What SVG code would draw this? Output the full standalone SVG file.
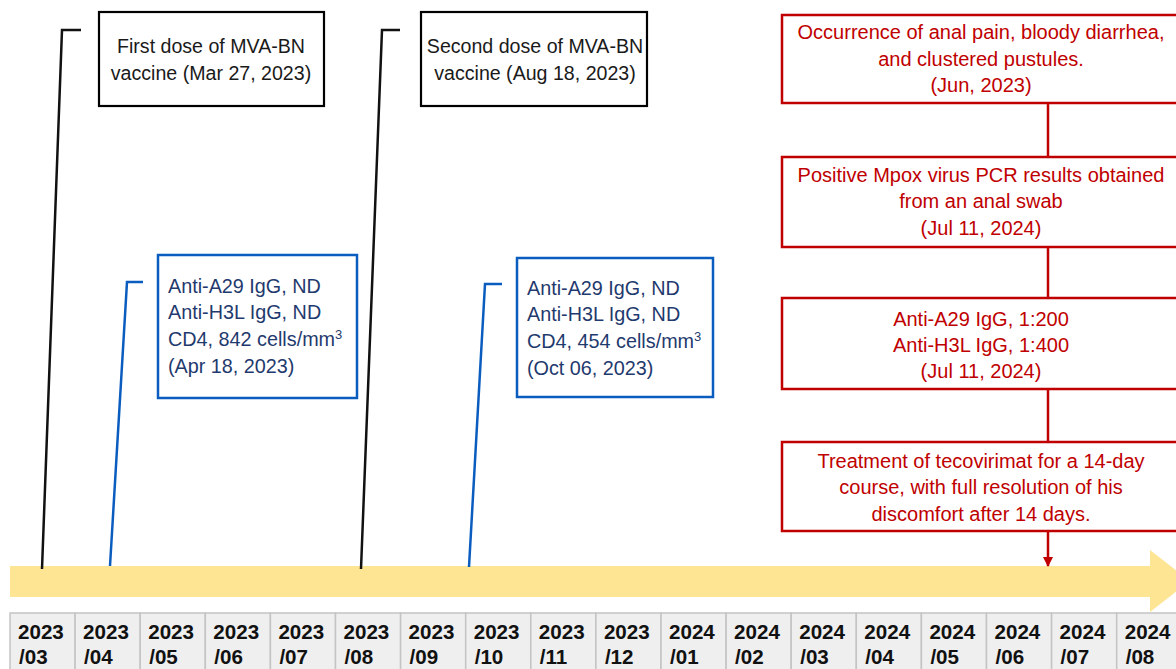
<svg xmlns="http://www.w3.org/2000/svg" width="1176" height="669" viewBox="0 0 1176 669">
<style>
text{font-family:"Liberation Sans",Arial,sans-serif;font-size:20px}
.bk{fill:#1a1a1a;text-anchor:middle;font-size:19.6px}
.rd{fill:#c00000;text-anchor:middle}
.bl{fill:#1f3a6e;font-size:19.8px}
.bx{fill:#fff;stroke:#000;stroke-width:2.2}
.rbx{fill:#fff;stroke:#c00000;stroke-width:2.5}
.bbx{fill:#fff;stroke:#0b5cbf;stroke-width:2.5}
.cell{fill:#efefef;stroke:#c4c4c4;stroke-width:1.5}
.ct{font-weight:bold;font-size:20.6px;fill:#111}
.cb{fill:none;stroke:#111;stroke-width:2.5}
.cbl{fill:none;stroke:#0b5cbf;stroke-width:2.5}
.cr{fill:none;stroke:#c00000;stroke-width:2.5}
</style>
<defs>
<marker id="ar" viewBox="0 0 10 10" refX="9" refY="5" markerWidth="4" markerHeight="4" orient="auto"><path d="M0,0 L10,5 L0,10 z" fill="#c00000"/></marker>
</defs>
<rect width="1176" height="669" fill="#fff"/>
<g id="timeline-arrow">
<polygon points="10,566 1150,566 1150,550 1190,581 1150,612 1150,597 10,597" fill="#fee594"/>
</g>
<g id="month-table">
<rect class="cell" x="10" y="613" width="65.1" height="60"/>
<rect class="cell" x="75.1" y="613" width="65.1" height="60"/>
<rect class="cell" x="140.2" y="613" width="65.1" height="60"/>
<rect class="cell" x="205.3" y="613" width="65.1" height="60"/>
<rect class="cell" x="270.4" y="613" width="65.1" height="60"/>
<rect class="cell" x="335.5" y="613" width="65.1" height="60"/>
<rect class="cell" x="400.6" y="613" width="65.1" height="60"/>
<rect class="cell" x="465.7" y="613" width="65.1" height="60"/>
<rect class="cell" x="530.8" y="613" width="65.1" height="60"/>
<rect class="cell" x="595.9" y="613" width="65.1" height="60"/>
<rect class="cell" x="661" y="613" width="65.1" height="60"/>
<rect class="cell" x="726.1" y="613" width="65.1" height="60"/>
<rect class="cell" x="791.2" y="613" width="65.1" height="60"/>
<rect class="cell" x="856.3" y="613" width="65.1" height="60"/>
<rect class="cell" x="921.4" y="613" width="65.1" height="60"/>
<rect class="cell" x="986.5" y="613" width="65.1" height="60"/>
<rect class="cell" x="1051.6" y="613" width="65.1" height="60"/>
<rect class="cell" x="1116.7" y="613" width="65.1" height="60"/>
<text class="ct" x="18" y="639">2023</text><text class="ct" x="19" y="664">/03</text>
<text class="ct" x="83.1" y="639">2023</text><text class="ct" x="84.1" y="664">/04</text>
<text class="ct" x="148.2" y="639">2023</text><text class="ct" x="149.2" y="664">/05</text>
<text class="ct" x="213.3" y="639">2023</text><text class="ct" x="214.3" y="664">/06</text>
<text class="ct" x="278.4" y="639">2023</text><text class="ct" x="279.4" y="664">/07</text>
<text class="ct" x="343.5" y="639">2023</text><text class="ct" x="344.5" y="664">/08</text>
<text class="ct" x="408.6" y="639">2023</text><text class="ct" x="409.6" y="664">/09</text>
<text class="ct" x="473.7" y="639">2023</text><text class="ct" x="474.7" y="664">/10</text>
<text class="ct" x="538.8" y="639">2023</text><text class="ct" x="539.8" y="664">/11</text>
<text class="ct" x="603.9" y="639">2023</text><text class="ct" x="604.9" y="664">/12</text>
<text class="ct" x="669" y="639">2024</text><text class="ct" x="670" y="664">/01</text>
<text class="ct" x="734.1" y="639">2024</text><text class="ct" x="735.1" y="664">/02</text>
<text class="ct" x="799.2" y="639">2024</text><text class="ct" x="800.2" y="664">/03</text>
<text class="ct" x="864.3" y="639">2024</text><text class="ct" x="865.3" y="664">/04</text>
<text class="ct" x="929.4" y="639">2024</text><text class="ct" x="930.4" y="664">/05</text>
<text class="ct" x="994.5" y="639">2024</text><text class="ct" x="995.5" y="664">/06</text>
<text class="ct" x="1059.6" y="639">2024</text><text class="ct" x="1060.6" y="664">/07</text>
<text class="ct" x="1124.7" y="639">2024</text><text class="ct" x="1125.7" y="664">/08</text>
</g>
<g id="connectors">
<polyline class="cb" points="42,569 62,30 81,30"/>
<polyline class="cb" points="361,569 382,30 400,30"/>
<polyline class="cbl" points="110,566 127,282 143,282"/>
<polyline class="cbl" points="469,567 485,284 502,284"/>
<line class="cr" x1="1048" y1="103" x2="1048" y2="157"/>
<line class="cr" x1="1048" y1="247" x2="1048" y2="298"/>
<line class="cr" x1="1048" y1="389" x2="1048" y2="442"/>
<line class="cr" x1="1048" y1="531" x2="1048" y2="566" marker-end="url(#ar)"/>
</g>
<g id="first-dose">
<rect class="bx" x="99" y="12" width="225" height="94"/>
<text class="bk" x="211" y="53">First dose of MVA-BN</text>
<text class="bk" x="211" y="80">vaccine (Mar 27, 2023)</text>
</g>
<g id="second-dose">
<rect class="bx" x="421" y="12" width="226" height="94"/>
<text class="bk" x="535" y="53">Second dose of MVA-BN</text>
<text class="bk" x="535" y="80">vaccine (Aug 18, 2023)</text>
</g>
<g id="lab-apr">
<rect class="bbx" x="158" y="255" width="199" height="143"/>
<text class="bl" x="168" y="293">Anti-A29 IgG, ND</text>
<text class="bl" x="168" y="319">Anti-H3L IgG, ND</text>
<text class="bl" x="168" y="346">CD4, 842 cells/mm<tspan font-size="13" dy="-7">3</tspan></text>
<text class="bl" x="168" y="373">(Apr 18, 2023)</text>
</g>
<g id="lab-oct">
<rect class="bbx" x="517" y="258" width="196" height="139"/>
<text class="bl" x="527" y="295">Anti-A29 IgG, ND</text>
<text class="bl" x="527" y="321">Anti-H3L IgG, ND</text>
<text class="bl" x="527" y="348">CD4, 454 cells/mm<tspan font-size="13" dy="-7">3</tspan></text>
<text class="bl" x="527" y="375">(Oct 06, 2023)</text>
</g>
<g id="symptoms">
<rect class="rbx" x="782" y="15" width="410" height="88"/>
<text class="rd" x="981" y="39">Occurrence of anal pain, bloody diarrhea,</text>
<text class="rd" x="981" y="66">and clustered pustules.</text>
<text class="rd" x="981" y="92">(Jun, 2023)</text>
</g>
<g id="pcr">
<rect class="rbx" x="782" y="157" width="410" height="90"/>
<text class="rd" x="981" y="182">Positive Mpox virus PCR results obtained</text>
<text class="rd" x="981" y="208">from an anal swab</text>
<text class="rd" x="981" y="235">(Jul 11, 2024)</text>
</g>
<g id="antibody">
<rect class="rbx" x="782" y="298" width="410" height="91"/>
<text class="rd" x="981" y="326">Anti-A29 IgG, 1:200</text>
<text class="rd" x="981" y="352">Anti-H3L IgG, 1:400</text>
<text class="rd" x="981" y="378">(Jul 11, 2024)</text>
</g>
<g id="treatment">
<rect class="rbx" x="782" y="442" width="410" height="89"/>
<text class="rd" x="981" y="468">Treatment of tecovirimat for a 14-day</text>
<text class="rd" x="981" y="494">course, with full resolution of his</text>
<text class="rd" x="981" y="521">discomfort after 14 days.</text>
</g>
</svg>
